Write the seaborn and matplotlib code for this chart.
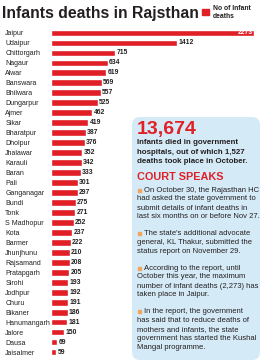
import numpy as np
import pandas as pd
import seaborn as sns
import matplotlib.pyplot as plt
from matplotlib.patches import FancyBboxPatch, Rectangle

# Infant deaths by district
districts = ["Jaipur", "Udaipur", "Chittorgarh", "Nagaur", "Alwar", "Banswara",
             "Bhilwara", "Dungarpur", "Ajmer", "Sikar", "Bharatpur", "Dholpur",
             "Jhalawar", "Karauli", "Baran", "Pali", "Ganganagar", "Bundi", "Tonk",
             "S Madhopur", "Kota", "Barmer", "Jhunjhunu", "Rajsamand", "Pratapgarh",
             "Sirohi", "Jodhpur", "Churu", "Bikaner", "Hanumangarh", "Jalore",
             "Dausa", "Jaisalmer"]
deaths = [2273, 1412, 715, 634, 619, 569, 557, 525, 462, 419, 387, 376, 352, 342,
          333, 301, 297, 275, 271, 252, 237, 222, 210, 208, 205, 193, 192, 191,
          186, 181, 150, 69, 59]

title = "Infants deaths in Rajsthan"
legend_label = "No of Infant\ndeaths"
big_number = "13,674"
intro_lines = ["Infants died in government",
               "hospitals, out of which 1,527",
               "deaths took place in October."]
court_head = "COURT SPEAKS"
bullets = [
    ["On October 30, the Rajasthan HC",
     "had asked the state government to",
     "submit details of infant deaths in",
     "last six months on or before Nov 27."],
    ["The state's additional advocate",
     "general, KL Thakur, submitted the",
     "status report on November 29."],
    ["According to the report, until",
     "October this year, the maximum",
     "number of infant deaths (2,273) has",
     "taken place in Jaipur."],
    ["In the report, the government",
     "has said that to reduce deaths of",
     "mothers and infants, the state",
     "government has started the Kushal",
     "Mangal programme."],
]

RED = "#e11f26"
INK = "#231f20"
W, H = 261, 362

sns.set_style("white")
plt.rcParams["font.family"] = ["Liberation Sans", "DejaVu Sans"]

fig = plt.figure(figsize=(W / 100, H / 100), dpi=100)

# overlay in pixel units for the title, legend and info box
ov = fig.add_axes([0, 0, 1, 1], zorder=0)
ov.set_xlim(0, W)
ov.set_ylim(H, 0)
ov.axis("off")

df = pd.DataFrame({"district": districts, "deaths": deaths})

ax = fig.add_axes([51 / W, 1 - 357 / H, 206 / W, 329 / H], zorder=1)
ax.patch.set_alpha(0)
sns.barplot(data=df, x="deaths", y="district", color=RED, width=0.68,
            saturation=1, ax=ax)
ax.set_xlim(0, 2306)
ax.set_ylim(len(districts) - 0.5, -0.5)
sns.despine(ax=ax, left=True, bottom=True)
ax.set_xticks([])
ax.set_xlabel("")
ax.set_ylabel("")
ax.tick_params(axis="y", length=0, pad=33, labelsize=5.0)
for lbl in ax.get_yticklabels():
    lbl.set_ha("left")
    lbl.set_color(INK)

labels = [""] + [str(v) for v in deaths[1:]]
ax.bar_label(ax.containers[0], labels=labels, padding=1, fontsize=4.9,
             fontweight="bold", color=INK)
ax.text(deaths[0] - 15, 0, str(deaths[0]), ha="right", va="center",
        fontsize=4.9, fontweight="bold", color="white")

# title and legend
ov.text(2, 13.5, title, fontsize=11.3, fontweight="bold",
        color=INK, va="center", ha="left")
ov.add_patch(Rectangle((202, 9), 7, 6, color=RED))
ov.text(213, 5.5, legend_label, fontsize=4.9, fontweight="bold",
        color=INK, va="top", ha="left", linespacing=1.05)

# info box
ov.add_patch(FancyBboxPatch((132, 117), 128, 243,
                            boxstyle="round,pad=0,rounding_size=8",
                            facecolor="#d5eaf7", edgecolor="none"))

ov.text(137, 129.5, big_number, fontsize=14, fontweight="bold",
        color=RED, va="center", ha="left")
y = 143
for line in intro_lines:
    ov.text(137, y, line, fontsize=5.7, fontweight="bold",
            color=INK, va="center", ha="left")
    y += 9.2
ov.text(137, 177, court_head, fontsize=7.8, fontweight="bold",
        color=RED, va="center", ha="left")

y = 190
for para in bullets:
    for i, line in enumerate(para):
        ov.text(144 if i == 0 else 137, y, line, fontsize=5.5,
                color=INK, va="center", ha="left")
        if i == 0:
            ov.add_patch(Rectangle((138, y - 1.5), 3, 3, color="#f2a55e"))
        y += 9
    y += 7.5

fig.savefig("out.png", dpi=100)
